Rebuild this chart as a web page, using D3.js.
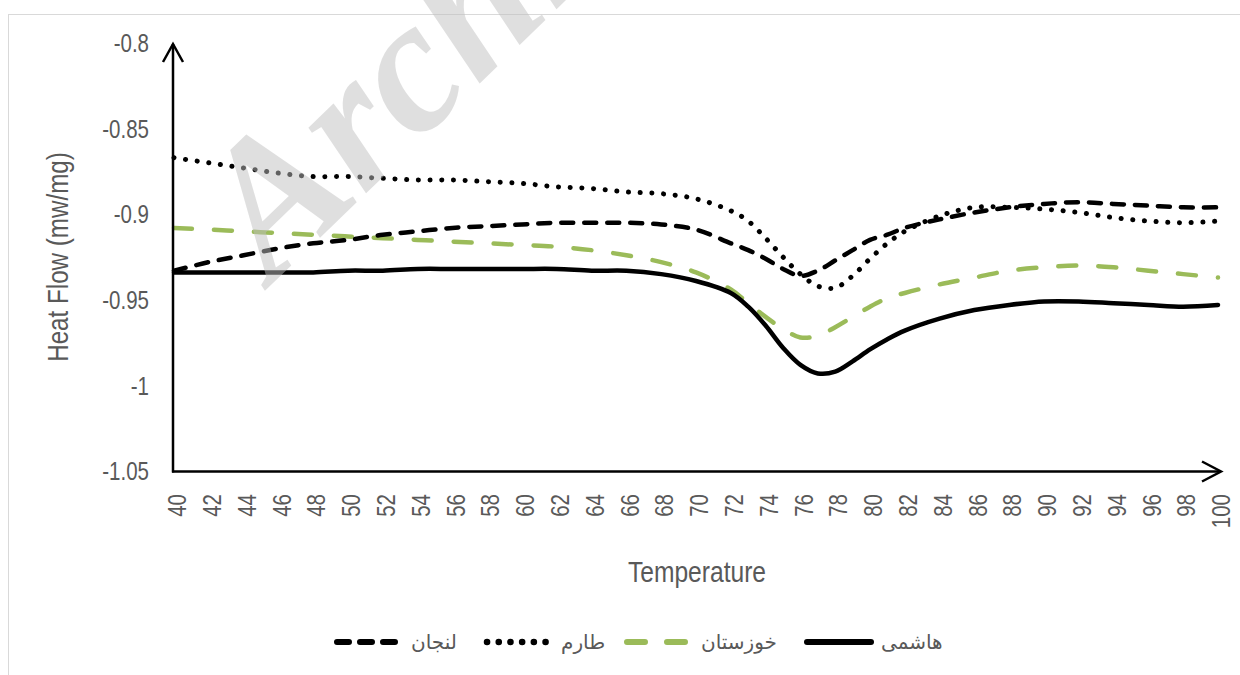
<!DOCTYPE html>
<html>
<head>
<meta charset="utf-8">
<script src="https://cdn.jsdelivr.net/npm/d3@7"></script>
<style>
  html, body { margin: 0; padding: 0; background: #ffffff; }
  svg { display: block; }
</style>
</head>
<body>
<svg id="chart" width="1240" height="675"></svg>
<script>
// ---- data ----
const temps = [40,42,44,46,48,50,52,54,56,58,60,62,64,66,68,70,72,73,74,75,76,77,78,79,80,81,82,84,86,88,90,92,94,96,98,100];

const hashemi = [-0.934,-0.934,-0.934,-0.934,-0.934,-0.933,-0.933,-0.932,-0.932,-0.932,-0.932,-0.932,-0.933,-0.933,-0.935,-0.939,-0.946,-0.954,-0.965,-0.978,-0.988,-0.993,-0.992,-0.986,-0.979,-0.973,-0.968,-0.961,-0.956,-0.953,-0.951,-0.951,-0.952,-0.953,-0.954,-0.953];

const khuzestan = [-0.908,-0.909,-0.910,-0.911,-0.912,-0.913,-0.914,-0.915,-0.916,-0.917,-0.918,-0.919,-0.921,-0.924,-0.928,-0.934,-0.944,-0.952,-0.960,-0.967,-0.972,-0.971,-0.966,-0.960,-0.954,-0.949,-0.946,-0.941,-0.937,-0.933,-0.931,-0.930,-0.931,-0.933,-0.935,-0.937];

const taram = [-0.867,-0.870,-0.873,-0.876,-0.878,-0.878,-0.879,-0.880,-0.880,-0.881,-0.882,-0.884,-0.885,-0.887,-0.888,-0.891,-0.898,-0.904,-0.914,-0.925,-0.935,-0.942,-0.943,-0.936,-0.926,-0.917,-0.910,-0.901,-0.896,-0.896,-0.897,-0.899,-0.902,-0.904,-0.905,-0.904];

const lenjan = [-0.933,-0.928,-0.924,-0.920,-0.917,-0.915,-0.912,-0.910,-0.908,-0.907,-0.906,-0.905,-0.905,-0.905,-0.906,-0.909,-0.917,-0.921,-0.926,-0.932,-0.936,-0.933,-0.927,-0.921,-0.915,-0.912,-0.908,-0.903,-0.899,-0.896,-0.894,-0.893,-0.894,-0.895,-0.896,-0.896];

const seriesNames = ["هاشمی", "خوزستان", "طارم", "لنجان"];
const yTickValues = [-0.8, -0.85, -0.9, -0.95, -1, -1.05];
const xTickValues = [40,42,44,46,48,50,52,54,56,58,60,62,64,66,68,70,72,74,76,78,80,82,84,86,88,90,92,94,96,98,100];
const xTitle = "Temperature";
const yTitle = "Heat Flow (mw/mg)";
const watermark = "Archive of SID";

// ---- setup ----
const svg = d3.select("#chart");
const FONT = "'Liberation Sans',Arial,sans-serif";
const NARROW = 0.82;
const TXT = "#595959";

const x = d3.scaleLinear().domain([40, 100]).range([174, 1218]);
const y = d3.scaleLinear().domain([-1.05, -0.8]).range([471, 43]);

// chart border
svg.append("rect")
  .attr("x", 8.5).attr("y", 14.5).attr("width", 1300).attr("height", 700)
  .attr("fill", "none").attr("stroke", "#d9d9d9").attr("stroke-width", 1);

// series
const styles = [
  { data: hashemi,   color: "#000000", width: 4.5, dash: null,        cap: "round" },
  { data: khuzestan, color: "#9bbb59", width: 4.5, dash: "18,22",     cap: "round" },
  { data: taram,     color: "#000000", width: 5,   dash: "0.1,11.6",  cap: "round" },
  { data: lenjan,    color: "#000000", width: 4.5, dash: "12,11",     cap: "round" }
];

const line = d3.line()
  .x(d => x(d[0]))
  .y(d => y(d[1]))
  .curve(d3.curveCatmullRom.alpha(0.5));

const gLines = svg.append("g");
[1, 0, 2, 3].forEach(i => {
  const s = styles[i];
  gLines.append("path")
    .datum(temps.map((t, k) => [t, s.data[k]]))
    .attr("d", line)
    .attr("fill", "none")
    .attr("stroke", s.color)
    .attr("stroke-width", s.width)
    .attr("stroke-linecap", s.cap)
    .attr("stroke-linejoin", "round")
    .attr("stroke-dasharray", s.dash);
});

// axes (labels)
const yAxis = d3.axisLeft(y).tickValues(yTickValues).tickSize(0)
  .tickFormat(d => String(d));
const gy = svg.append("g").attr("transform", "translate(173,0)").call(yAxis);
gy.select(".domain").remove();
gy.selectAll("text")
  .attr("x", null).attr("dy", null)
  .attr("font-family", FONT).attr("font-size", 25).attr("fill", TXT)
  .attr("text-anchor", "end")
  .attr("dominant-baseline", "central")
  .attr("transform", `translate(-24,0) scale(${NARROW},1)`);

const xAxis = d3.axisBottom(x).tickValues(xTickValues).tickSize(0)
  .tickFormat(d => String(d));
const gx = svg.append("g").attr("transform", "translate(0,471)").call(xAxis);
gx.select(".domain").remove();
gx.selectAll("text")
  .attr("x", null).attr("y", null).attr("dy", null)
  .attr("font-family", FONT).attr("font-size", 25).attr("fill", TXT)
  .attr("text-anchor", "end")
  .attr("dominant-baseline", "central")
  .attr("transform", `translate(3,23) rotate(-90) scale(${NARROW},1)`);

// axis lines with arrows
const axisG = svg.append("g").attr("stroke", "#000").attr("stroke-width", 2.5).attr("fill", "none");
const ax0 = 173, ay0 = 471.5;
const yTop = y(-0.8) + 1;
const xRight = 1221;
axisG.append("line").attr("x1", ax0).attr("y1", ay0 + 1).attr("x2", ax0).attr("y2", yTop);
axisG.append("line").attr("x1", ax0 - 1).attr("y1", ay0).attr("x2", xRight).attr("y2", ay0);
axisG.append("path").attr("d", `M${ax0 - 10},${yTop + 18} L${ax0},${yTop} L${ax0 + 10},${yTop + 18}`);
axisG.append("path").attr("d", `M${xRight - 19},${ay0 - 10} L${xRight},${ay0} L${xRight - 19},${ay0 + 10}`);

// titles
svg.append("text")
  .attr("transform", `translate(697,582) scale(${NARROW},1)`)
  .attr("text-anchor", "middle")
  .attr("font-family", FONT).attr("font-size", 30).attr("fill", TXT)
  .text(xTitle);

svg.append("text")
  .attr("transform", `translate(68,257) rotate(-90) scale(${NARROW},1)`)
  .attr("text-anchor", "middle")
  .attr("font-family", FONT).attr("font-size", 29.5).attr("fill", TXT)
  .text(yTitle);

// legend
const legendOrder = [3, 2, 1, 0]; // left to right: لنجان, طارم, خوزستان, هاشمی
const legendX = [335, 485, 625, 805];
const legendY = 642;
const gLeg = svg.append("g");
legendOrder.forEach((si, j) => {
  const s = styles[si];
  const lx = legendX[j];
  gLeg.append("line")
    .attr("x1", lx + 2).attr("x2", lx + 66).attr("y1", legendY).attr("y2", legendY)
    .attr("stroke", s.color).attr("stroke-width", s.width + 1.5)
    .attr("stroke-linecap", s.cap)
    .attr("stroke-dasharray", s.dash);
  gLeg.append("text")
    .attr("x", lx + 76).attr("y", legendY).attr("dy", "0.35em")
    .attr("font-family", "'DejaVu Sans',sans-serif")
    .attr("font-size", 20).attr("fill", TXT)
    .text(seriesNames[si]);
});

// watermark (semi-transparent, on top; partly beyond the top edge as in the source)
svg.append("text")
  .attr("transform", "translate(272,284) rotate(-44)")
  .attr("font-family", "'Liberation Serif','Times New Roman',serif")
  .attr("font-weight", "bold").attr("font-style", "italic")
  .attr("font-size", 190)
  .attr("fill", "#c0c0c0").attr("fill-opacity", 0.5)
  .text(watermark);
</script>
</body>
</html>
